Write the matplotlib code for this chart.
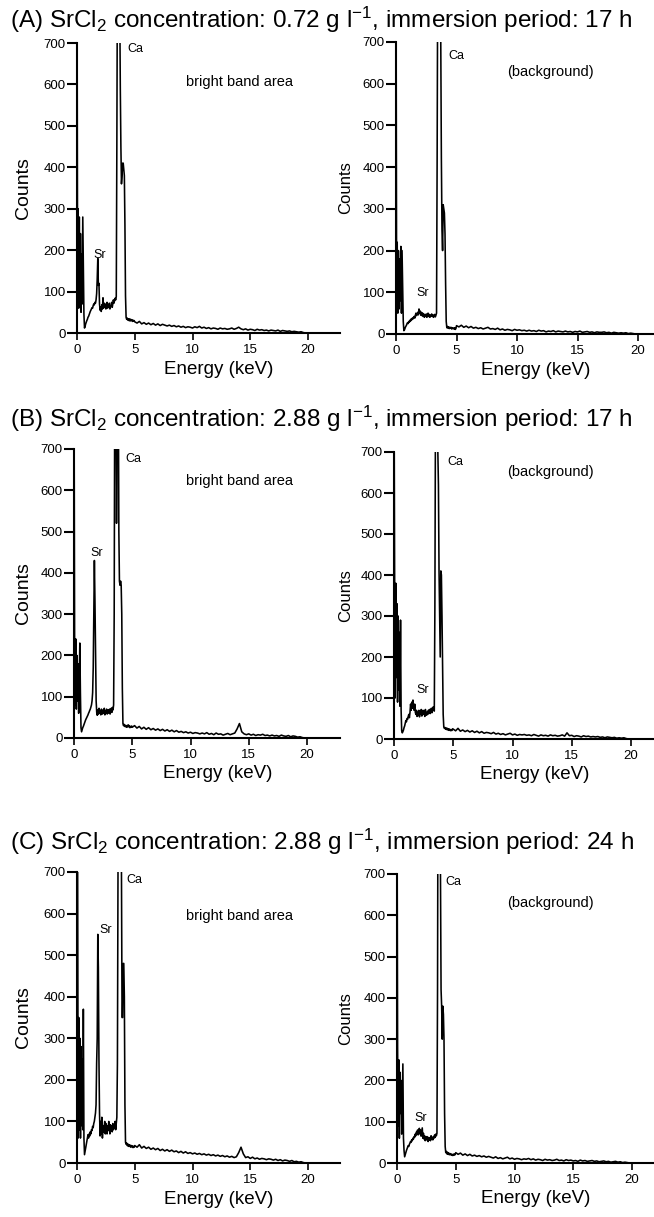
import numpy as np
import matplotlib
matplotlib.use("Agg")
import matplotlib.pyplot as plt

plt.rcParams['font.family'] = ['Liberation Sans', 'DejaVu Sans']
plt.rcParams['mathtext.fontset'] = 'custom'
plt.rcParams['mathtext.rm'] = 'Liberation Sans'
plt.rcParams['mathtext.it'] = 'Liberation Sans:italic'

W, H = 654, 1217

# energy channels (keV): fine steps below 5 keV, coarser above
energy = np.concatenate([np.arange(100) * 0.05, 5.0 + np.arange(75) * 0.2])

titles = [
    "(A) SrCl$_2$ concentration: 0.72 g l$^{-1}$, immersion period: 17 h",
    "(B) SrCl$_2$ concentration: 2.88 g l$^{-1}$, immersion period: 17 h",
    "(C) SrCl$_2$ concentration: 2.88 g l$^{-1}$, immersion period: 24 h",
]

# counts
a_bright = [
    900, 120, 300, 60, 280, 80, 240, 50, 190, 70,      # 0.00
    280, 160, 45, 12, 16, 22, 26, 30, 33, 38,          # 0.50
    40, 44, 48, 52, 55, 58, 61, 60, 66, 70,            # 1.00
    68, 74, 72, 80, 95, 130, 180, 115, 120, 70,        # 1.50
    55, 62, 52, 68, 58, 85, 60, 72, 62, 70,            # 2.00
    58, 66, 74, 60, 68, 62, 72, 58, 66, 64,            # 2.50
    74, 62, 70, 80, 72, 78, 84, 80, 88, 450,           # 3.00
    900, 1100, 1500, 1200, 800, 590, 450, 360, 380, 410,  # 3.50
    410, 395, 380, 260, 90, 38, 33, 36, 31, 34,        # 4.00
    30, 34, 29, 33, 30, 32, 28, 31, 29, 30,            # 4.50
    27, 24, 28, 22, 25, 21, 24, 20, 23, 19, 22, 18, 21, 19, 17,  # 5.0
    19, 16, 18, 15, 17, 14, 16, 13, 15, 14, 12, 15, 13, 16, 12,  # 8.0
    14, 11, 13, 10, 12, 11, 9, 12, 10, 11, 9, 10, 12, 9, 11,     # 11.0
    14, 10, 8, 10, 7, 9, 8, 6, 9, 7, 8, 6, 7, 5, 7,              # 14.0
    6, 5, 7, 4, 6, 5, 4, 5, 3, 4, 3, 2, 3, 1, 0,                 # 17.0
]
a_back = [
    900, 90, 220, 50, 200, 60, 180, 80, 210, 50,
    200, 120, 30, 8, 10, 14, 18, 20, 24, 27,
    25, 30, 28, 33, 31, 36, 34, 38, 36, 40,
    42, 38, 45, 50, 44, 48, 52, 46, 60, 50,
    55, 45, 52, 44, 50, 42, 48, 40, 46, 44,
    48, 40, 45, 50, 42, 47, 40, 45, 43, 48,
    42, 46, 40, 44, 47, 41, 45, 50, 420, 900,
    1500, 1300, 1100, 900, 700, 420, 250, 200, 310, 300,
    290, 240, 120, 30, 15, 18, 14, 17, 13, 16,
    14, 16, 12, 15, 13, 14, 12, 15, 11, 13,
    20, 17, 21, 16, 19, 15, 18, 14, 16, 13, 15, 12, 14, 16, 12,
    13, 11, 14, 10, 12, 9, 11, 10, 8, 11, 9, 10, 8, 9, 7,
    9, 7, 8, 6, 9, 7, 8, 5, 7, 6, 8, 5, 7, 6, 5,
    7, 5, 6, 4, 6, 5, 7, 4, 5, 6, 4, 5, 3, 5, 4,
    4, 5, 3, 4, 2, 4, 3, 2, 3, 2, 3, 1, 2, 1, 0,
]
b_bright = [
    900, 250, 80, 240, 70, 200, 90, 180, 60, 150,
    230, 110, 25, 15, 20, 25, 28, 32, 36, 40,
    44, 47, 50, 53, 56, 60, 63, 67, 70, 75,
    80, 90, 110, 170, 300, 430, 330, 200, 90, 62,
    55, 68, 58, 72, 60, 66, 56, 70, 62, 58,
    68, 60, 72, 56, 66, 62, 70, 58, 64, 68,
    60, 70, 58, 66, 72, 62, 74, 68, 80, 300,
    900, 1500, 800, 520, 700, 1200, 900, 500, 380, 370,
    380, 370, 300, 120, 35, 30, 33, 28, 31, 27,
    30, 26, 29, 32, 27, 30, 25, 28, 26, 29,
    26, 30, 24, 28, 22, 26, 21, 25, 20, 23, 19, 22, 18, 21, 17,
    20, 16, 19, 15, 18, 14, 16, 13, 15, 12, 14, 11, 13, 12, 10,
    12, 10, 13, 9, 11, 8, 12, 9, 10, 7, 9, 11, 8, 10, 12,
    22, 35, 15, 10, 8, 10, 7, 9, 6, 8, 7, 9, 6, 7, 5,
    7, 5, 6, 4, 7, 5, 4, 6, 3, 5, 4, 2, 3, 1, 0,
]
b_back = [
    900, 410, 100, 380, 150, 330, 90, 300, 120, 260,
    80, 290, 70, 20, 15, 18, 22, 28, 32, 38,
    45, 42, 50, 48, 55, 60, 52, 65, 85, 70,
    90, 75, 95, 80, 70, 85, 65, 60, 70, 55,
    65, 58, 70, 54, 66, 60, 72, 56, 64, 70,
    60, 68, 55, 72, 62, 58, 66, 60, 70, 64,
    72, 62, 68, 75, 64, 70, 78, 72, 68, 320,
    800, 1400, 1600, 1100, 700, 620, 410, 300, 200, 410,
    400, 300, 180, 60, 30, 26, 28, 24, 27, 23,
    26, 22, 25, 21, 24, 22, 20, 23, 21, 25,
    24, 20, 26, 19, 22, 18, 21, 17, 20, 16, 19, 15, 18, 14, 16,
    15, 13, 16, 12, 14, 11, 13, 10, 12, 14, 10, 12, 9, 11, 10,
    11, 9, 10, 8, 11, 9, 7, 10, 8, 9, 7, 10, 8, 9, 7,
    8, 10, 7, 15, 8, 9, 6, 8, 7, 5, 8, 6, 7, 5, 6,
    5, 6, 4, 5, 3, 5, 4, 3, 4, 2, 3, 2, 3, 1, 0,
]
c_bright = [
    900, 800, 60, 350, 80, 300, 60, 280, 90, 250,
    80, 370, 60, 20, 28, 36, 44, 52, 60, 68,
    60, 70, 65, 75, 70, 80, 78, 88, 85, 95,
    100, 110, 120, 140, 240, 300, 550, 470, 250, 120,
    65, 100, 70, 110, 60, 90, 75, 85, 100, 70,
    95, 80, 70, 90, 78, 100, 85, 70, 92, 80,
    88, 75, 95, 80, 90, 85, 100, 80, 95, 110,
    240, 700, 1400, 1500, 1300, 1000, 800, 700, 350, 350,
    480, 480, 400, 140, 50, 45, 48, 42, 46, 40,
    44, 40, 43, 38, 42, 39, 41, 37, 40, 38,
    42, 38, 44, 36, 40, 35, 38, 33, 36, 32, 35, 30, 33, 29, 32,
    28, 31, 27, 29, 25, 28, 24, 27, 23, 25, 22, 24, 21, 23, 20,
    22, 19, 21, 18, 20, 17, 19, 16, 18, 15, 17, 14, 16, 13, 15,
    25, 38, 22, 13, 15, 11, 14, 10, 12, 9, 11, 10, 8, 10, 9,
    7, 9, 6, 8, 5, 7, 6, 4, 6, 3, 4, 2, 3, 1, 0,
]
c_back = [
    900, 280, 90, 250, 60, 220, 120, 200, 70, 160,
    240, 60, 30, 15, 20, 25, 30, 34, 38, 42,
    40, 45, 48, 52, 50, 56, 54, 60, 58, 64,
    62, 70, 66, 75, 72, 80, 68, 78, 84, 70,
    80, 65, 75, 85, 60, 72, 58, 66, 54, 62,
    56, 64, 58, 52, 62, 56, 60, 54, 66, 58,
    62, 56, 64, 60, 68, 62, 70, 66, 72, 420,
    1100, 1500, 1300, 900, 700, 420, 380, 300, 380, 360,
    300, 120, 40, 25, 28, 22, 26, 21, 24, 20,
    23, 20, 22, 19, 21, 18, 20, 22, 19, 21,
    25, 21, 24, 19, 22, 18, 21, 17, 19, 16, 18, 15, 17, 14, 16,
    14, 12, 15, 11, 13, 10, 12, 14, 10, 12, 9, 11, 10, 8, 10,
    9, 11, 8, 10, 7, 9, 8, 6, 9, 7, 8, 6, 7, 9, 6,
    7, 5, 8, 6, 7, 5, 6, 4, 7, 5, 6, 4, 5, 6, 4,
    5, 3, 4, 5, 3, 4, 2, 3, 4, 2, 3, 1, 2, 1, 0,
]

spectra = [a_bright, a_back, b_bright, b_back, c_bright, c_back]
side_labels = ["bright band area", "(background)"] * 3
# (x, y) of the Sr and Ca labels and of the side label, in keV / counts
sr_pos = [(2.0, 188), (2.2, 98), (1.95, 448), (2.4, 119), (2.5, 560), (2.0, 109)]
ca_pos = [(4.4, 700), (4.3, 680), (4.4, 690), (4.5, 690), (4.25, 695), (4.1, 695)]
side_pos = [(14.1, 606), (12.8, 629), (14.2, 622), (13.2, 652), (14.1, 595), (13.1, 630)]

# axes boxes in pixels: left, right, top, bottom, pixels per keV
boxes = [
    (77, 340, 43, 333, 11.55), (396, 654, 42, 334, 12.1),
    (74, 340, 449, 738, 11.65), (394, 654, 452, 739, 11.85),
    (77, 340, 872, 1163, 11.55), (397, 654, 874, 1163, 11.75),
]
title_base = [28, 427, 850]

fig = plt.figure(figsize=(W / 100, H / 100), dpi=100)

for i, (l, r, t, b, ppk) in enumerate(boxes):
    ax = fig.add_axes([l / W, 1 - b / H, (r - l) / W, (b - t) / H])
    ax.plot(energy, spectra[i], color='black', lw=1.15)
    ax.set_xlim(0, (r - l) / ppk)
    ax.set_ylim(0, 700)
    for s in ['top', 'right']:
        ax.spines[s].set_visible(False)
    for s in ['left', 'bottom']:
        ax.spines[s].set_linewidth(1.5)
    ax.set_xticks([0, 5, 10, 15, 20])
    ax.set_yticks(range(0, 701, 100))
    ax.tick_params(axis='y', length=7, width=1.5, pad=1, labelsize=9.5)
    ax.tick_params(axis='x', length=5, width=1.2, pad=3, labelsize=9.5)
    left_col = (i % 2 == 0)
    ax.set_xlabel("Energy (keV)", fontsize=13.5)
    ax.xaxis.set_label_coords(0.54, -0.095)
    if left_col:
        ax.set_ylabel("Counts", fontsize=14)
        ax.yaxis.set_label_coords((32 - l) / (r - l), 0.5)
    else:
        ax.set_ylabel("Counts", fontsize=12,
                      family=['Liberation Sans Narrow', 'Liberation Sans'])
        ax.yaxis.set_label_coords((353 - l) / (r - l), 0.5)
    ax.text(*sr_pos[i], "Sr", fontsize=9, ha='center', va='center')
    ax.text(*ca_pos[i], "Ca", fontsize=9, ha='left', va='top')
    ax.text(*side_pos[i], side_labels[i], fontsize=10.5, ha='center', va='center')

for k, tt in enumerate(titles):
    fig.text(10 / W, 1 - title_base[k] / H, tt, fontsize=17.5, ha='left', va='baseline')

fig.savefig("out.png", dpi=100)
